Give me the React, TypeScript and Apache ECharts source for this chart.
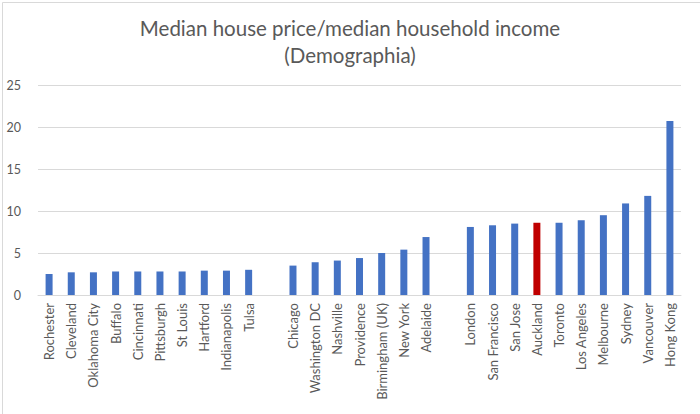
import React, { useEffect, useRef } from "react";
import * as echarts from "echarts";

const categories = [
  "Rochester", "Cleveland", "Oklahoma City", "Buffalo", "Cincinnati", "Pittsburgh", "St Louis", "Hartford", "Indianapolis", "Tulsa",
  "",
  "Chicago", "Washington DC", "Nashville", "Providence", "Birmingham (UK)", "New York", "Adelaide",
  "",
  "London", "San Francisco", "San Jose", "Auckland", "Toronto", "Los Angeles", "Melbourne", "Sydney", "Vancouver", "Hong Kong",
];

const values: (number | null)[] = [
  2.5, 2.7, 2.7, 2.8, 2.8, 2.8, 2.8, 2.9, 2.9, 3.0,
  null,
  3.5, 3.9, 4.1, 4.4, 5.0, 5.4, 6.9,
  null,
  8.1, 8.3, 8.5, 8.6, 8.6, 8.9, 9.5, 10.9, 11.8, 20.7,
];

const highlighted = ["Auckland"];
const yTicks = { min: 0, max: 25, interval: 5 };
const titleLines = ["Median house price/median household income", "(Demographia)"];

const BLUE = "#4472c4";
const RED = "#c00000";

export default function App() {
  const ref = useRef<HTMLDivElement>(null);
  useEffect(() => {
    if (!ref.current) return;
    const chart = echarts.init(ref.current, null, { renderer: "svg" });
    const font = "Lato, 'Open Sans', sans-serif";
    chart.setOption({
      animation: false,
      backgroundColor: "#ffffff",
      textStyle: { fontFamily: font },
      title: {
        text: titleLines.join("\n"),
        left: "center",
        top: 9,
        textStyle: {
          fontFamily: font,
          fontSize: 20.5,
          fontWeight: "normal",
          color: "#595959",
          lineHeight: 27,
        },
      },
      graphic: [
        {
          type: "rect",
          left: 0,
          top: 0,
          shape: { x: 0.5, y: 0.5, width: 699, height: 413 },
          style: { fill: "none", stroke: "#d9d9d9", lineWidth: 1 },
          silent: true,
        },
      ],
      grid: { left: 38, right: 19, top: 85, bottom: 119 },
      xAxis: {
        type: "category",
        data: categories,
        axisLine: { lineStyle: { color: "#d9d9d9", width: 1 } },
        axisTick: { show: false },
        axisLabel: {
          interval: 0,
          rotate: 90,
          margin: 8,
          color: "#595959",
          fontSize: 13,
          fontFamily: font,
        },
      },
      yAxis: {
        type: "value",
        min: yTicks.min,
        max: yTicks.max,
        interval: yTicks.interval,
        axisLine: { show: false },
        axisTick: { show: false },
        splitLine: { lineStyle: { color: "#d9d9d9", width: 1 } },
        axisLabel: { color: "#595959", fontSize: 12.5, margin: 17, fontFamily: font },
      },
      series: [
        {
          type: "bar",
          barWidth: 7,
          data: values.map((v, i) => ({
            value: v,
            itemStyle: { color: highlighted.includes(categories[i]) ? RED : BLUE },
          })),
        },
      ],
    });
    return () => chart.dispose();
  }, []);
  return <div ref={ref} style={{ position: "fixed", left: 0, top: 0, width: 700, height: 414 }} />;
}
